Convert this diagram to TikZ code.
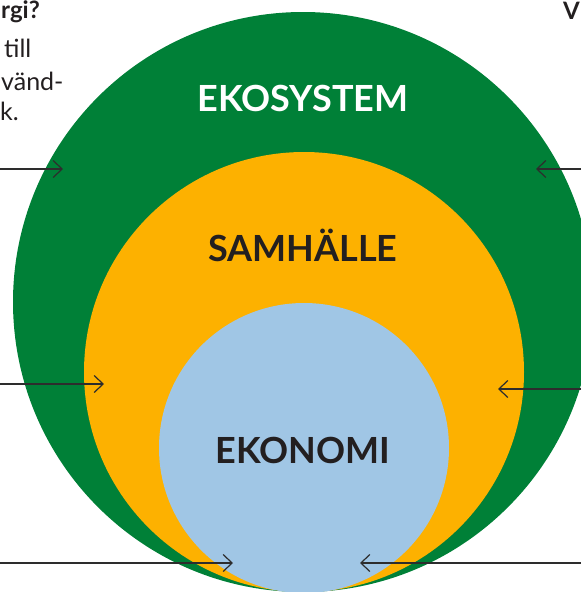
\documentclass[tikz,border=0pt]{standalone}
\usepackage{fontspec}
\setmainfont{Lato}
\usetikzlibrary{arrows.meta}
\definecolor{ekogreen}{RGB}{0,128,55}
\definecolor{samorange}{RGB}{253,177,0}
\definecolor{ekoblue}{RGB}{160,198,229}
\definecolor{inkdark}{RGB}{35,31,32}
\definecolor{linedark}{RGB}{45,45,45}
\tikzset{
  ring/.style={circle, inner sep=0pt, draw=none},
  bigtitle/.style={font=\bfseries\fontsize{36}{36}\selectfont, inner sep=0pt},
  sidetext/.style={font=\fontsize{25}{25}\selectfont, text=inkdark, inner sep=0pt},
  sidebold/.style={font=\bfseries\fontsize{24}{24}\selectfont, text=inkdark, inner sep=0pt},
  pointer/.style={draw=linedark, line width=1.2pt, -{Straight Barb[length=9pt, width=17pt, line width=1.2pt]}}
}
\begin{document}
\begin{tikzpicture}[x=1pt, y=-1pt]
\useasboundingbox (0,0) rectangle (581,592);
\clip (0,0) rectangle (581,592);
\node[ring, fill=ekogreen, minimum size=580pt] (eko) at (303,302) {};
\node[ring, fill=samorange, minimum size=440pt] (sam) at (304,372) {};
\node[ring, fill=ekoblue, minimum size=290pt] (eco) at (304,448) {};
\node[bigtitle, text=white] (t1) at (303,98) {EKOSYSTEM};
\node[bigtitle, text=inkdark] (t2) at (303,245) {SAMHÄLLE};
\node[bigtitle, text=inkdark] (t3) at (303,450) {EKONOMI};
\node[sidebold, anchor=base west] (l1) at (1,18) {rgi?};
\node[sidetext, anchor=base west] (l2) at (4,57) {till};
\node[sidetext, anchor=base west] (l3) at (1,90) {vänd-};
\node[sidetext, anchor=base west] (l4) at (0,120) {k.};
\node[sidebold, anchor=base west] (r1) at (563,19) {V};
\coordinate (a1s) at (0,169);   \coordinate (a1e) at (63,169);
\coordinate (a2s) at (0,384);   \coordinate (a2e) at (104,384);
\coordinate (a3s) at (0,563);   \coordinate (a3e) at (233,563);
\coordinate (a4s) at (581,169); \coordinate (a4e) at (536,169);
\coordinate (a5s) at (581,389); \coordinate (a5e) at (498,389);
\coordinate (a6s) at (581,563); \coordinate (a6e) at (360,563);
\draw[pointer] (a1s) -- (a1e);
\draw[pointer] (a2s) -- (a2e);
\draw[pointer] (a3s) -- (a3e);
\draw[pointer] (a4s) -- (a4e);
\draw[pointer] (a5s) -- (a5e);
\draw[pointer] (a6s) -- (a6e);
\end{tikzpicture}
\end{document}
